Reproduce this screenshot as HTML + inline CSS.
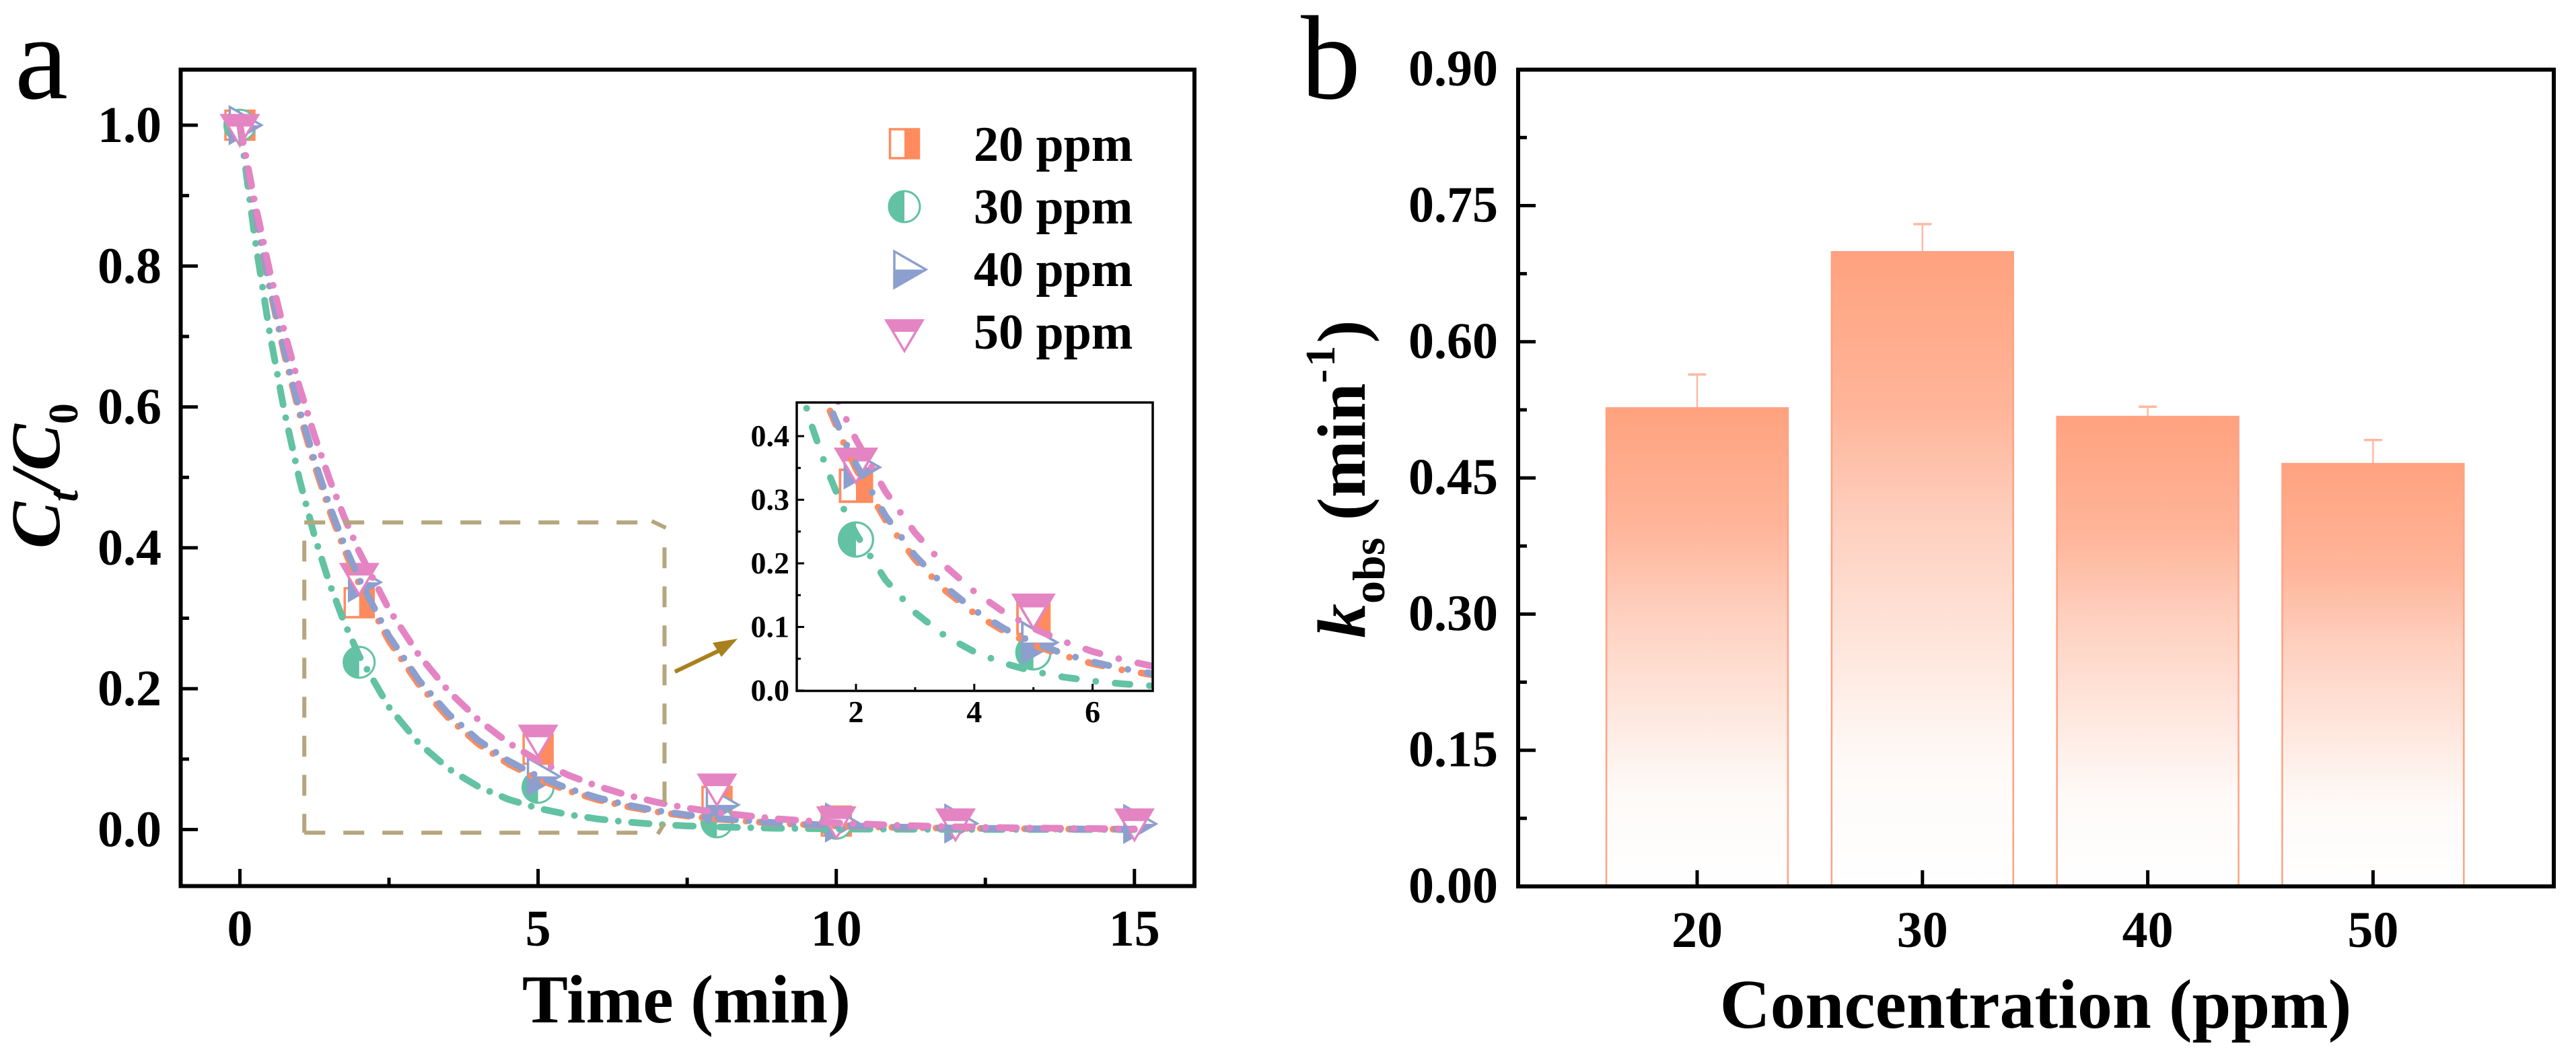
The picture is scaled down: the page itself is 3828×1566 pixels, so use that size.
<!DOCTYPE html>
<html lang="en">
<head>
<meta charset="utf-8">
<title>Kinetics of degradation at four concentrations</title>
<style>
html,body{margin:0;padding:0;background:#fff;}
svg{display:block;}
text{font-family:"Liberation Serif",serif;fill:#000;}
.tick{font-size:76px;font-weight:bold;}
.inset-tick{font-size:46px;font-weight:bold;}
.title{font-size:102px;font-weight:bold;}
.legend{font-size:74px;font-weight:bold;}
.panel{font-size:178px;}
</style>
</head>
<body>
<svg id="fig" xmlns="http://www.w3.org/2000/svg" width="3828" height="1566" viewBox="0 0 3828 1566">
  <defs>
    <linearGradient id="bar-grad" x1="0" y1="0" x2="0" y2="1">
      <stop offset="0" stop-color="#FFA27E"/>
      <stop offset="0.25" stop-color="#FFB59A"/>
      <stop offset="0.43" stop-color="#FED0BF"/>
      <stop offset="0.57" stop-color="#FEE0D4"/>
      <stop offset="0.714" stop-color="#FEF0EA"/>
      <stop offset="0.81" stop-color="#FEFAF8"/>
      <stop offset="1" stop-color="#FFFFFF"/>
    </linearGradient>
    <clipPath id="inset-clip"><rect x="1184" y="598" width="529" height="428"/></clipPath>
    <clipPath id="main-clip"><rect x="269" y="103" width="1506" height="1213"/></clipPath>
  </defs>
  <rect x="0" y="0" width="3828" height="1566" fill="#fff"/>

  <text class="panel" x="22" y="146">a</text>
  <text class="panel" x="1933" y="146">b</text>

  <!-- Panel a -->
  <g id="a-marks" clip-path="url(#main-clip)"></g>
  <g id="a-box"></g>
  <g id="a-axes"></g>
  <rect x="268.500" y="103.500" width="1506.500" height="1213" fill="none" stroke="#000" stroke-width="6"/>
  <text class="title" x="1020" y="1519" text-anchor="middle">Time (min)</text>
  <text class="title" transform="translate(88 815) rotate(-90)" style="font-size:104px;font-style:italic">C<tspan dy="27" style="font-size:62px">t</tspan><tspan dy="-27">/C</tspan><tspan dy="27" style="font-size:62px;font-style:normal">0</tspan></text>

  <!-- Legend -->
  <g id="legend">
    <g id="legend-marks"></g>
    <text class="legend" x="1447" y="239">20 ppm</text>
    <text class="legend" x="1447" y="332">30 ppm</text>
    <text class="legend" x="1447" y="425">40 ppm</text>
    <text class="legend" x="1447" y="518">50 ppm</text>
  </g>

  <!-- Arrow -->
  <g>
    <line x1="1003" y1="998" x2="1070" y2="966" stroke="#A8811E" stroke-width="6"/>
    <polygon points="1096,949 1059,955 1072,976" fill="#A8811E"/>
  </g>

  <!-- Inset -->
  <rect x="1184" y="598" width="529" height="428" fill="#fff"/>
  <g id="i-marks" clip-path="url(#inset-clip)"></g>
  <g id="i-axes"></g>
  <rect x="1184" y="598" width="529" height="428.500" fill="none" stroke="#000" stroke-width="3.500"/>

  <!-- Panel b -->
  <g id="b-bars"></g>
  <g id="b-axes"></g>
  <rect x="2256" y="103.500" width="1539" height="1213.500" fill="none" stroke="#000" stroke-width="6"/>
  <text class="title" x="3025" y="1527" text-anchor="middle" style="font-size:104px">Concentration (ppm)</text>
  <text class="title" transform="translate(2028 948) rotate(-90)"><tspan style="font-style:italic">k</tspan><tspan dy="29" style="font-size:68px">obs</tspan><tspan dy="-29"> (min</tspan><tspan dy="-45" style="font-size:62px;letter-spacing:4px">-1</tspan><tspan dy="45">)</tspan></text>
</svg>

<script>
// ---------- Panel a data ----------
const curveTimes = [0,0.25,0.5,0.75,1,1.25,1.5,1.75,2,2.5,3,3.5,4,4.5,5,5.5,6,6.5,7,7.5,8,9,10,11,12,13,14,15];
const curve20 = [1,0.8766,0.7684,0.6736,0.5904,0.5176,0.4537,0.3977,0.3486,0.2678,0.2058,0.1581,0.1215,0.0933,0.0717,0.0551,0.0423,0.0325,0.0250,0.0192,0.0148,0.0087,0.0051,0.0030,0.0018,0.0011,0.0006,0.0004];
const curve30 = [1,0.8395,0.7047,0.5916,0.4966,0.4169,0.3499,0.2938,0.2466,0.1738,0.1225,0.0863,0.0608,0.0429,0.0302,0.0213,0.0150,0.0106,0.0074,0.0052,0.0037,0.0018,0.0009,0.0005,0.0002,0.0001,0.0001,0];
const curve40 = [1,0.8788,0.7722,0.6786,0.5963,0.5240,0.4604,0.4046,0.3556,0.2746,0.2120,0.1638,0.1265,0.0977,0.0754,0.0582,0.0450,0.0347,0.0268,0.0207,0.0160,0.0095,0.0057,0.0034,0.0020,0.0012,0.0007,0.0004];
const curve50 = [1,0.8903,0.7926,0.7057,0.6281,0.5594,0.4979,0.4433,0.3946,0.3126,0.2478,0.1964,0.1557,0.1233,0.0978,0.0775,0.0614,0.0487,0.0386,0.0306,0.0242,0.0152,0.0096,0.0060,0.0038,0.0024,0.0015,0.0009];
const pointTimes20 = [0,2,5,8,10];
const pointTimes30 = [0,2,5,8,10];
const pointTimes40 = [0,2,5,8,10,12,15];
const pointTimes50 = [0,2,5,8,10,12,15];
const points20 = [1,0.322,0.114,0.04,0.012];
const points30 = [1,0.2375,0.06,0.011,0.009];
const points40 = [1,0.351,0.0755,0.035,0.01,0.0086,0.008];
const points50 = [1,0.3625,0.133,0.0635,0.017,0.014,0.014];
const aYTicks = [0,0.2,0.4,0.6,0.8,1];
const aYMinor = [0.1,0.3,0.5,0.7,0.9];
const aYLabels = ["0.0","0.2","0.4","0.6","0.8","1.0"];
const aXTicks = [0,5,10,15];
const aXMinor = [2.5,7.5,12.5];
const aXLabels = ["0","5","10","15"];
const insetYTicks = [0,0.1,0.2,0.3,0.4];
const insetYMinor = [0.05,0.15,0.25,0.35];
const insetYLabels = ["0.0","0.1","0.2","0.3","0.4"];
const insetXTicks = [2,4,6];
const insetXMinor = [3,5];
const insetXLabels = ["2","4","6"];
// ---------- Panel b data ----------
const concentrations = [20,30,40,50];
const concentrationLabels = ["20","30","40","50"];
const rateValues = [0.527,0.699,0.5175,0.4656];
const rateErrors = [0.037,0.0306,0.011,0.0262];
const bYTicks = [0,0.15,0.3,0.45,0.6,0.75,0.9];
const bYMinor = [0.075,0.225,0.375,0.525,0.675,0.825];
const bYLabels = ["0.00","0.15","0.30","0.45","0.60","0.75","0.90"];

// ---------- Scales ----------
const ax = t => 356.5 + t * 88.62;
const ay = v => 1232.5 - v * 1046.5;
const ix = t => 1272 + (t - 2) * 87.9;
const iy = v => 1026 - v * 945;
const bx = c => 2522 + (c - 20) * 33.48;
const by = v => 1317 - v * 1348.7;

const NS = 'http://www.w3.org/2000/svg';
function make(parent, tag, attrs) {
  const el = document.createElementNS(NS, tag);
  for (const k in attrs) el.setAttribute(k, attrs[k]);
  parent.appendChild(el);
  return el;
}
const COLORS = {s20:'#FF8B5E', s30:'#63C2A3', s40:'#8C9FCE', s50:'#E484C3'};

function marker(parent, kind, cx, cy, s, name) {
  const g = make(parent, 'g', {transform:`translate(${cx} ${cy}) scale(${s})`});
  
  
  const c = COLORS[kind];
  if (kind === 's20') {
    make(g, 'rect', {x:-21.5, y:-21.5, width:43, height:43, fill:'#fff', stroke:c, 'stroke-width':3.5});
    make(g, 'rect', {x:0, y:-23, width:23, height:46, fill:c});
  } else if (kind === 's30') {
    make(g, 'circle', {cx:0, cy:0, r:23, fill:'#fff', stroke:c, 'stroke-width':3});
    make(g, 'path', {d:'M0 -24.500 A24.500 24.500 0 0 0 0 24.500 Z', fill:c});
  } else if (kind === 's40') {
    make(g, 'polygon', {points:'-15,-27 32,0 -15,27', fill:'#fff', stroke:c, 'stroke-width':3.5, 'stroke-linejoin':'miter'});
    make(g, 'polygon', {points:'-16.500,0 34.500,0 -16.500,29', fill:c});
  } else {
    make(g, 'polygon', {points:'-27,-15 27,-15 0,30.500', fill:'#fff', stroke:c, 'stroke-width':3.5, 'stroke-linejoin':'miter'});
    make(g, 'polygon', {points:'-29,-16 29,-16 18.300,2 -18.300,2', fill:c});
  }
}

function curve(parent, values, xf, yf, dash, offset, name, color, width) {
  const d = curveTimes.map((t, i) => (i ? 'L' : 'M') + xf(t).toFixed(1) + ' ' + yf(values[i]).toFixed(1)).join(' ');
  const p = make(parent, 'path', {d:d, fill:'none', stroke:color, 'stroke-width':width, 'stroke-linecap':'round', 'stroke-linejoin':'round', 'stroke-dasharray':dash, 'stroke-dashoffset':offset});
  
  
}

function drawSeries(parent, xf, yf, dash, offsets, s, tmin, tmax, prefix, width) {
  const sets = [
    ['s20', pointTimes20, points20],
    ['s30', pointTimes30, points30],
    ['s40', pointTimes40, points40],
    ['s50', pointTimes50, points50]
  ];
  sets.forEach(set => {
    set[1].forEach((t, i) => {
      if (t >= tmin && t <= tmax) marker(parent, set[0], xf(t), yf(set[2][i]), s, prefix + '-point-' + set[0] + '-t' + t);
    });
  });
  curve(parent, curve30, xf, yf, dash, offsets.s30, prefix + '-fit-30-ppm', COLORS.s30, width);
  curve(parent, curve20, xf, yf, dash, offsets.s20, prefix + '-fit-20-ppm', COLORS.s20, width);
  curve(parent, curve40, xf, yf, dash, offsets.s40, prefix + '-fit-40-ppm', COLORS.s40, width);
  curve(parent, curve50, xf, yf, dash, offsets.s50, prefix + '-fit-50-ppm', COLORS.s50, width);
}

function tickLine(parent, x1, y1, x2, y2, w, name) {
  const l = make(parent, 'line', {x1:x1, y1:y1, x2:x2, y2:y2, stroke:'#000', 'stroke-width':w});
  
  
}
function label(parent, cls, x, y, anchor, str, name) {
  const t = make(parent, 'text', {class:cls, x:x, y:y, 'text-anchor':anchor});
  t.textContent = str;
  
  
}

// ---------- Panel a ----------
const aMarks = document.getElementById('a-marks');
drawSeries(aMarks, ax, ay, '26 19.85 0 19.85', {s20:0, s30:0, s40:0, s50:0}, 1, 0, 15, 'main', 10);

const aAxes = document.getElementById('a-axes');
aYTicks.forEach((v, i) => {
  tickLine(aAxes, 268, ay(v), 294, ay(v), 5, 'a-y-tick');
  label(aAxes, 'tick', 240, ay(v) + 25, 'end', aYLabels[i], 'a-y-tick-label');
});
aYMinor.forEach(v => tickLine(aAxes, 268, ay(v), 281, ay(v), 5, 'a-y-minor-tick'));
aXTicks.forEach((t, i) => {
  tickLine(aAxes, ax(t), 1316, ax(t), 1291, 5, 'a-x-tick');
  label(aAxes, 'tick', ax(t), 1405, 'middle', aXLabels[i], 'a-x-tick-label');
});
aXMinor.forEach(t => tickLine(aAxes, ax(t), 1316, ax(t), 1304, 5, 'a-x-minor-tick'));

// Zoom region box (annotation)
const boxT = [1.08, 7.12];
const boxV = [0.436, -0.0045];
const aBox = document.getElementById('a-box');
const bl = ax(boxT[0]), br = ax(boxT[1]), bt = ay(boxV[0]), bb = ay(boxV[1]);
const boxSegs = [
  `M${bl} ${bt} H${br - 25}`,
  `M${br - 19} ${bt - 2} L${br + 2} ${bt + 8}`,
  `M${br} ${bt + 37} V${bb - 22}`,
  `M${br} ${bb - 14} L${br - 10} ${bb + 2}`,
  `M${bl} ${bb} H${br - 38}`,
  `M${bl} ${bt + 27} V${bb}`
];
boxSegs.forEach(seg => {
  const isSlant = seg.includes('L');
  const p = make(aBox, 'path', {d:seg, fill:'none', stroke:'#B5A67E', 'stroke-width':6});
  if (!isSlant) p.setAttribute('stroke-dasharray', '31 27');
  
  
});

// Legend
const legendMarks = document.getElementById('legend-marks');
marker(legendMarks, 's20', 1344, 213.5, 1, 'legend-marker-20-ppm');
marker(legendMarks, 's30', 1344, 307, 1, 'legend-marker-30-ppm');
marker(legendMarks, 's40', 1344, 400.5, 1, 'legend-marker-40-ppm');
marker(legendMarks, 's50', 1344, 491, 1, 'legend-marker-50-ppm');

// Inset
const iMarks = document.getElementById('i-marks');
drawSeries(iMarks, ix, iy, '22 29 0 29', {s20:12, s30:-5, s40:7, s50:-36}, 1.1, 1, 7, 'inset', 10);
const iAxes = document.getElementById('i-axes');
insetYTicks.forEach((v, i) => {
  tickLine(iAxes, 1184, iy(v), 1195, iy(v), 3, 'inset-y-tick');
  label(iAxes, 'inset-tick', 1173, iy(v) + 15, 'end', insetYLabels[i], 'inset-y-tick-label');
});
insetYMinor.forEach(v => tickLine(iAxes, 1184, iy(v), 1190, iy(v), 3, 'inset-y-minor-tick'));
insetXTicks.forEach((t, i) => {
  tickLine(iAxes, ix(t), 1026, ix(t), 1016, 3, 'inset-x-tick');
  label(iAxes, 'inset-tick', ix(t), 1073, 'middle', insetXLabels[i], 'inset-x-tick-label');
});
insetXMinor.forEach(t => tickLine(iAxes, ix(t), 1026, ix(t), 1021, 3, 'inset-x-minor-tick'));

// ---------- Panel b ----------
const bBars = document.getElementById('b-bars');
concentrations.forEach((c, i) => {
  const top = by(rateValues[i]);
  const cap = by(rateValues[i] + rateErrors[i]);
  const stem = make(bBars, 'line', {x1:bx(c), y1:top, x2:bx(c), y2:cap, stroke:'#FFB9A0', 'stroke-width':2.5});
  
  
  const capLine = make(bBars, 'line', {x1:bx(c) - 13.5, y1:cap, x2:bx(c) + 13.5, y2:cap, stroke:'#FFB9A0', 'stroke-width':3.5});
  
  
  const x0 = bx(c - 4.03), x1 = bx(c + 4.03);
  const bar = make(bBars, 'rect', {x:x0, y:top, width:x1 - x0, height:by(0) - top, fill:'url(#bar-grad)', stroke:'#FFA283', 'stroke-width':2.5});
  
  
});
const bAxes = document.getElementById('b-axes');
bYTicks.forEach((v, i) => {
  tickLine(bAxes, 2256, by(v), 2282, by(v), 5, 'b-y-tick');
  label(bAxes, 'tick', 2226, by(v) + 24, 'end', bYLabels[i], 'b-y-tick-label');
});
bYMinor.forEach(v => tickLine(bAxes, 2256, by(v), 2269, by(v), 5, 'b-y-minor-tick'));
concentrations.forEach((c, i) => {
  tickLine(bAxes, bx(c), 1317, bx(c), 1293, 5, 'b-x-tick');
  label(bAxes, 'tick', bx(c), 1407, 'middle', concentrationLabels[i], 'b-x-tick-label');
});
</script>
</body>
</html>
